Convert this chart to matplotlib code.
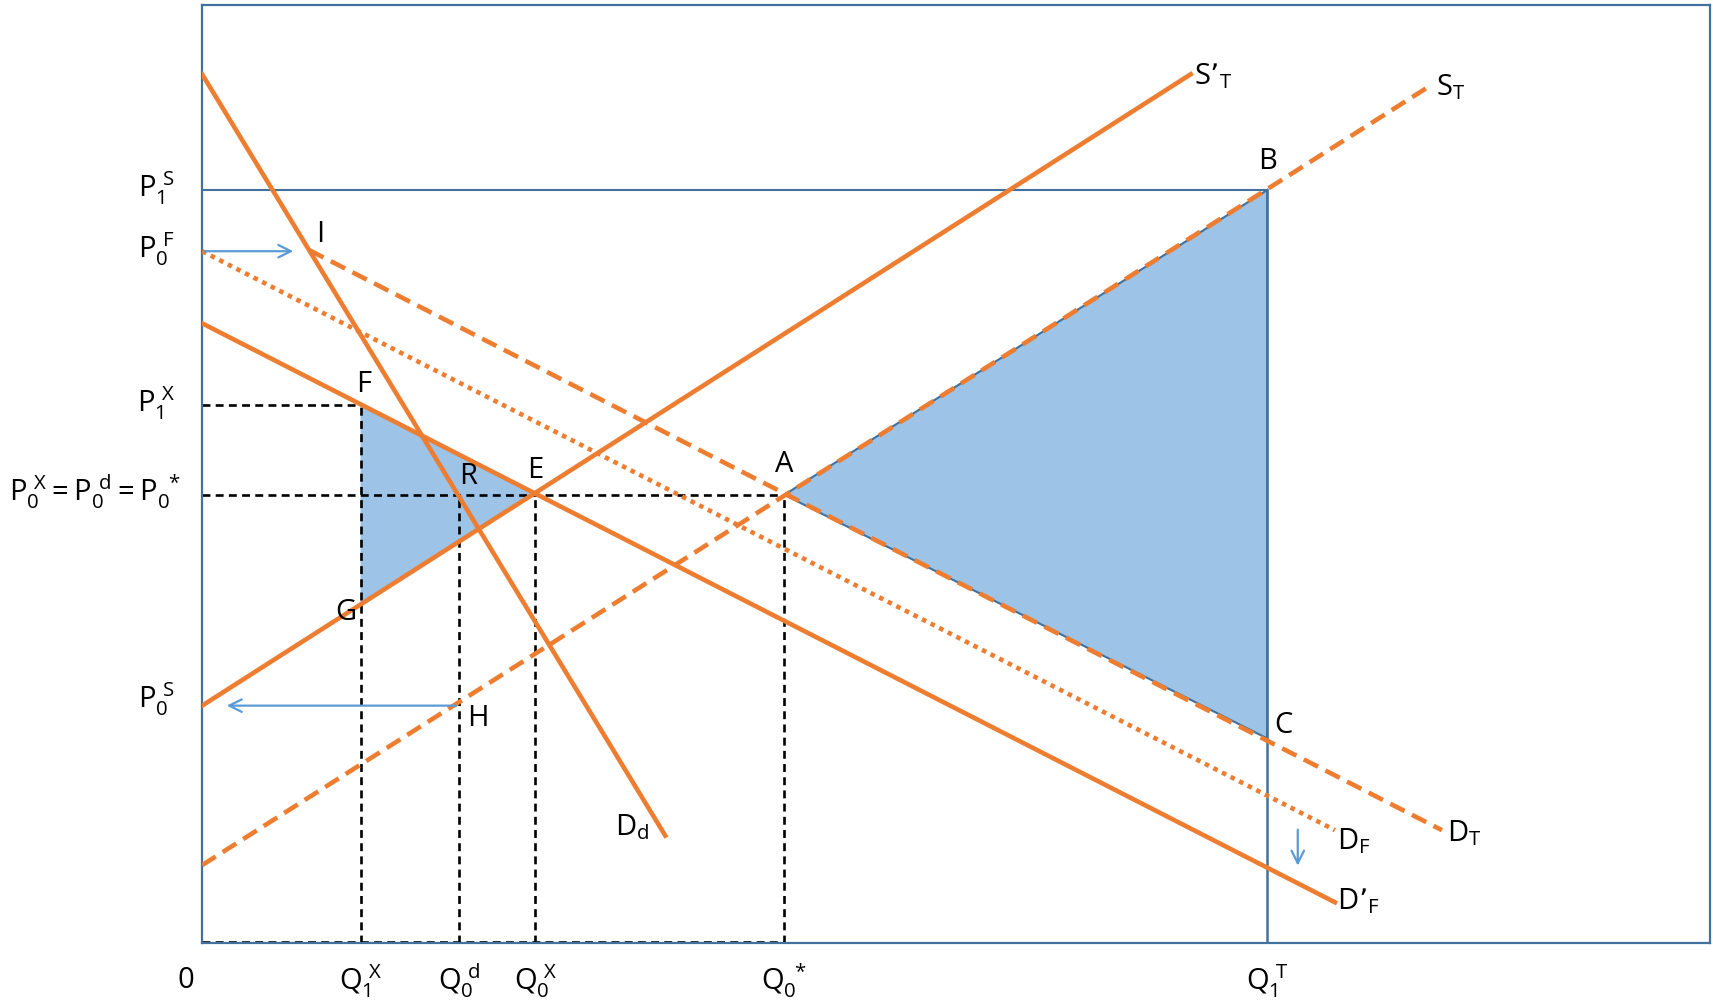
import numpy as np
import matplotlib
matplotlib.use('Agg')
from matplotlib import pyplot as plt

#
# Diagram data (quantity on x, price on y)
#
orange = '#ED7D31'
frame_blue = '#41719C'
arrow_blue = '#5B9BD5'
fill_blue = '#9DC3E6'

# curves: (x0, y0, x1, y1)
Dd = [0, 795, 424, 98]
S_T_prime = [0, 217, 905, 795]
S_T = [0, 71, 1125, 785]
D_F_prime = [0, 567, 1037, 37]
D_F = [0, 633, 1037, 103]
D_T = [98, 634, 1135, 103]

# prices and quantities
P1_S = 689
P0_F = 633
P1_X = 492
P0 = 410
P0_S = 217
Q1_X = 145
Q0_d = 235
Q0_X = 305
Q0_star = 533
Q1_T = 975

# named points
pts = {'A': (533, 410), 'B': (975, 689), 'C': (975, 187), 'E': (305, 410),
       'F': (145, 493), 'G': (145, 310), 'R': (235, 410), 'H': (235, 217),
       'I': (98, 634)}

XMAX, YMAX = 1380, 858

fig = plt.figure(figsize=(17.13, 10.05), dpi=100)
ax = fig.add_axes([0.118, 0.062, 0.880, 0.9326])
ax.set_xlim(0, XMAX)
ax.set_ylim(0, YMAX)
ax.set_xticks([])
ax.set_yticks([])
for s in ax.spines.values():
    s.set_color(frame_blue)
    s.set_linewidth(1.6)

plt.rcParams['font.family'] = ['Open Sans', 'DejaVu Sans']

# shaded areas
ax.fill([pts['F'][0], pts['E'][0], pts['G'][0]],
        [pts['F'][1], pts['E'][1], pts['G'][1]], color=fill_blue, lw=0, zorder=1)
ax.fill([pts['A'][0], pts['B'][0], pts['C'][0]],
        [pts['A'][1], pts['B'][1], pts['C'][1]], facecolor=fill_blue,
        edgecolor=frame_blue, lw=1.5, zorder=1)

# blue reference lines
ax.plot([0, Q1_T], [P1_S, P1_S], color=frame_blue, lw=1.5, zorder=2)
ax.plot([Q1_T, Q1_T], [0, P1_S], color=frame_blue, lw=1.8, zorder=2)

# black dashed guides
bd = dict(color='k', lw=1.9, ls=(0, (3, 2)), zorder=2)
ax.plot([0, Q1_X], [P1_X, P1_X], **bd)
ax.plot([Q1_X, Q1_X], [0, P1_X], **bd)
ax.plot([0, Q0_star], [P0, P0], **bd)
ax.plot([Q0_d, Q0_d], [0, P0], **bd)
ax.plot([Q0_X, Q0_X], [0, P0], **bd)
ax.plot([Q0_star, Q0_star], [0, P0], **bd)
ax.plot([0, Q0_star], [1, 1], **bd)

# orange curves
lw = 3.3
ax.plot(Dd[0::2], Dd[1::2], color=orange, lw=lw, zorder=3)
ax.plot(S_T_prime[0::2], S_T_prime[1::2], color=orange, lw=lw, zorder=3)
ax.plot(D_F_prime[0::2], D_F_prime[1::2], color=orange, lw=lw, zorder=3)
ax.plot(S_T[0::2], S_T[1::2], color=orange, lw=lw, ls=(0, (3.5, 1.8)), zorder=3)
ax.plot(D_T[0::2], D_T[1::2], color=orange, lw=lw, ls=(0, (3.5, 1.8)), zorder=3)
ax.plot(D_F[0::2], D_F[1::2], color=orange, lw=lw, ls=(0, (1, 1.1)), zorder=3)

# blue arrows
arr = dict(arrowstyle='->,head_length=0.9,head_width=0.45', color=arrow_blue, lw=1.6)
ax.annotate('', xy=(86, P0_F), xytext=(0, P0_F), arrowprops=arr)
ax.annotate('', xy=(20, P0_S), xytext=(Q0_d, P0_S), arrowprops=arr)
ax.annotate('', xy=(1003, 68), xytext=(1003, 106), arrowprops=arr)

# labels
fs = 21
def lab(x, y, s, ha='center', va='center'):
    ax.text(x, y, r'$\mathregular{' + s + '}$', fontsize=fs, ha=ha, va=va,
            clip_on=False, zorder=5)

lab(-25, P1_S + 2, r'P_1^{\ S}', ha='right')
lab(-25, P0_F + 2, r'P_0^{\ F}', ha='right')
lab(-25, P1_X + 2, r'P_1^{\ X}', ha='right')
lab(-25, P0_S + 6, r'P_0^{\ S}', ha='right')
lab(-20, P0 + 3, r'P_0^{\ X}=P_0^{\ d}=P_0^{\ *}', ha='right')

lab(-15, -35, '0')
lab(Q1_X, -35, r'Q_1^{\ X}')
lab(Q0_d, -35, r'Q_0^{\ d}')
lab(Q0_X, -35, r'Q_0^{\ X}')
lab(Q0_star, -35, r'Q_0^{\ *}')
lab(Q1_T, -35, r'Q_1^{\ T}')

offs = {'A': (0, 28), 'B': (0, 26), 'C': (15, 12), 'E': (0, 22), 'F': (3, 18),
        'G': (-14, -8), 'R': (9, 17), 'H': (17, -12), 'I': (10, 14)}
for k, (x, y) in pts.items():
    dx, dy = offs[k]
    lab(x + dx, y + dy, k)

lab(908, 793, 'S\u2019_T', ha='left')
lab(1130, 783, 'S_T', ha='left')
lab(1140, 100, 'D_T', ha='left')
lab(1039, 93, 'D_F', ha='left')
lab(1039, 38, 'D\u2019_F', ha='left')
lab(378, 106, 'D_d', ha='left')

fig.savefig('out.png', dpi=100)
